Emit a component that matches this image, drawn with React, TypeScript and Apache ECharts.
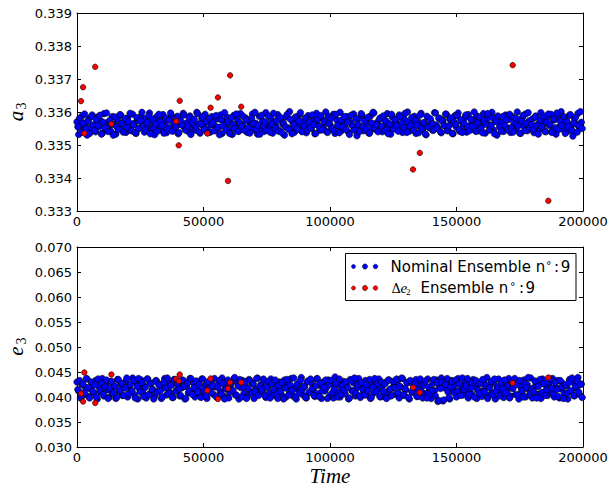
import React, { useEffect, useRef } from "react";
import * as echarts from "echarts";

// Sampling times of the nominal ensemble (two interleaved output streams)
const times = [
  0, 650, 1350, 2000, 2650, 3350, 4000, 4650, 5350, 6000, 6650, 7350, 8000, 8650, 9350,
  10000, 10650, 11350, 12000, 12650, 13350, 14000, 14650, 15350, 16000, 16650, 17350, 18000, 18650, 19350,
  20000, 20650, 21350, 22000, 22650, 23350, 24000, 24650, 25350, 26000, 26650, 27350, 28000, 28650, 29350,
  30000, 30650, 31350, 32000, 32650, 33350, 34000, 34650, 35350, 36000, 36650, 37350, 38000, 38650, 39350,
  40000, 40650, 41350, 42000, 42650, 43350, 44000, 44650, 45350, 46000, 46650, 47350, 48000, 48650, 49350,
  50000, 50650, 51350, 52000, 52650, 53350, 54000, 54650, 55350, 56000, 56650, 57350, 58000, 58650, 59350,
  60000, 60650, 61350, 62000, 62650, 63350, 64000, 64650, 65350, 66000, 66650, 67350, 68000, 68650, 69350,
  70000, 70650, 71350, 72000, 72650, 73350, 74000, 74650, 75350, 76000, 76650, 77350, 78000, 78650, 79350,
  80000, 80650, 81350, 82000, 82650, 83350, 84000, 84650, 85350, 86000, 86650, 87350, 88000, 88650, 89350,
  90000, 90650, 91350, 92000, 92650, 93350, 94000, 94650, 95350, 96000, 96650, 97350, 98000, 98650, 99350,
  100000, 100650, 101350, 102000, 102650, 103350, 104000, 104650, 105350, 106000, 106650, 107350, 108000, 108650, 109350,
  110000, 110650, 111350, 112000, 112650, 113350, 114000, 114650, 115350, 116000, 116650, 117350, 118000, 118650, 119350,
  120000, 120650, 121350, 122000, 122650, 123350, 124000, 124650, 125350, 126000, 126650, 127350, 128000, 128650, 129350,
  130000, 130650, 131350, 132000, 132650, 133350, 134000, 134650, 135350, 136000, 136650, 137350, 138000, 138650, 139350,
  140000, 140650, 141350, 142000, 142650, 143350, 144000, 144650, 145350, 146000, 146650, 147350, 148000, 148650, 149350,
  150000, 150650, 151350, 152000, 152650, 153350, 154000, 154650, 155350, 156000, 156650, 157350, 158000, 158650, 159350,
  160000, 160650, 161350, 162000, 162650, 163350, 164000, 164650, 165350, 166000, 166650, 167350, 168000, 168650, 169350,
  170000, 170650, 171350, 172000, 172650, 173350, 174000, 174650, 175350, 176000, 176650, 177350, 178000, 178650, 179350,
  180000, 180650, 181350, 182000, 182650, 183350, 184000, 184650, 185350, 186000, 186650, 187350, 188000, 188650, 189350,
  190000, 190650, 191350, 192000, 192650, 193350, 194000, 194650, 195350, 196000, 196650, 197350, 198000, 198650, 199350,
];

const times2 = [
  325, 1000, 1675, 2325, 3000, 3675, 4325, 5000, 5675, 6325, 7000, 7675, 8325, 9000, 9675,
  10325, 11000, 11675, 12325, 13000, 13675, 14325, 15000, 15675, 16325, 17000, 17675, 18325, 19000, 19675,
  20325, 21000, 21675, 22325, 23000, 23675, 24325, 25000, 25675, 26325, 27000, 27675, 28325, 29000, 29675,
  30325, 31000, 31675, 32325, 33000, 33675, 34325, 35000, 35675, 36325, 37000, 37675, 38325, 39000, 39675,
  40325, 41000, 41675, 42325, 43000, 43675, 44325, 45000, 45675, 46325, 47000, 47675, 48325, 49000, 49675,
  50325, 51000, 51675, 52325, 53000, 53675, 54325, 55000, 55675, 56325, 57000, 57675, 58325, 59000, 59675,
  60325, 61000, 61675, 62325, 63000, 63675, 64325, 65000, 65675, 66325, 67000, 67675, 68325, 69000, 69675,
  70325, 71000, 71675, 72325, 73000, 73675, 74325, 75000, 75675, 76325, 77000, 77675, 78325, 79000, 79675,
  80325, 81000, 81675, 82325, 83000, 83675, 84325, 85000, 85675, 86325, 87000, 87675, 88325, 89000, 89675,
  90325, 91000, 91675, 92325, 93000, 93675, 94325, 95000, 95675, 96325, 97000, 97675, 98325, 99000, 99675,
  100325, 101000, 101675, 102325, 103000, 103675, 104325, 105000, 105675, 106325, 107000, 107675, 108325, 109000, 109675,
  110325, 111000, 111675, 112325, 113000, 113675, 114325, 115000, 115675, 116325, 117000, 117675, 118325, 119000, 119675,
  120325, 121000, 121675, 122325, 123000, 123675, 124325, 125000, 125675, 126325, 127000, 127675, 128325, 129000, 129675,
  130325, 131000, 131675, 132325, 133000, 133675, 134325, 135000, 135675, 136325, 137000, 137675, 138325, 139000, 139675,
  140325, 141000, 141675, 142325, 143000, 143675, 144325, 145000, 145675, 146325, 147000, 147675, 148325, 149000, 149675,
  150325, 151000, 151675, 152325, 153000, 153675, 154325, 155000, 155675, 156325, 157000, 157675, 158325, 159000, 159675,
  160325, 161000, 161675, 162325, 163000, 163675, 164325, 165000, 165675, 166325, 167000, 167675, 168325, 169000, 169675,
  170325, 171000, 171675, 172325, 173000, 173675, 174325, 175000, 175675, 176325, 177000, 177675, 178325, 179000, 179675,
  180325, 181000, 181675, 182325, 183000, 183675, 184325, 185000, 185675, 186325, 187000, 187675, 188325, 189000, 189675,
  190325, 191000, 191675, 192325, 193000, 193675, 194325, 195000, 195675, 196325, 197000, 197675, 198325, 199000, 199675,
];

const a3Nominal = [
  0.3357, 0.33532, 0.33558, 0.33588, 0.33545, 0.33566, 0.3353, 0.33579, 0.33552, 0.33591,
  0.33561, 0.3354, 0.33584, 0.33555, 0.33573, 0.33536, 0.33595, 0.33549, 0.33568, 0.33557,
  0.33542, 0.33586, 0.33563, 0.33533, 0.33577, 0.33554, 0.3359, 0.33547, 0.33571, 0.33538,
  0.33582, 0.33559, 0.33544, 0.33593, 0.33566, 0.33535, 0.33574, 0.33551, 0.33587, 0.33562,
  0.33539, 0.3358, 0.33556, 0.33597, 0.33548, 0.33569, 0.33531, 0.33585, 0.3356, 0.33575,
  0.33546, 0.33592, 0.33565, 0.33537, 0.33578, 0.33553, 0.33589, 0.33543, 0.33572, 0.33558,
  0.33534, 0.33583, 0.33561, 0.33596, 0.3355, 0.33567, 0.33541, 0.33588, 0.33555, 0.33576,
  0.33545, 0.33599, 0.33564, 0.33536, 0.33581, 0.33557, 0.33593, 0.33548, 0.3357, 0.33539,
  0.33586, 0.33562, 0.33544, 0.33579, 0.33553, 0.33591, 0.33535, 0.33574, 0.3356, 0.33584,
  0.33547, 0.33568, 0.33532, 0.3359, 0.33556, 0.33577, 0.33542, 0.33595, 0.33563, 0.33551,
  0.33582, 0.33538, 0.33571, 0.33559, 0.33594, 0.33546, 0.33566, 0.33533, 0.33587, 0.33554,
  0.33573, 0.33541, 0.33598, 0.33561, 0.33549, 0.3358, 0.33536, 0.33569, 0.33557, 0.33592,
  0.33544, 0.33575, 0.33563, 0.3353, 0.33585, 0.33552, 0.33601, 0.33547, 0.33568, 0.33539,
  0.33583, 0.33558, 0.33592, 0.33543, 0.33572, 0.33555, 0.33537, 0.33589, 0.33564, 0.3355,
  0.33578, 0.33534, 0.33596, 0.3356, 0.33545, 0.33581, 0.33553, 0.3357, 0.33541, 0.33587,
  0.33562, 0.33548, 0.33593, 0.33535, 0.33576, 0.33557, 0.33599, 0.33544, 0.33567, 0.33552,
  0.33586, 0.33539, 0.33571, 0.33561, 0.33594, 0.33546, 0.33528, 0.3358, 0.33556, 0.3359,
  0.33543, 0.33574, 0.33565, 0.33536, 0.33588, 0.33551, 0.33597, 0.33547, 0.33569, 0.33558,
  0.33582, 0.3354, 0.33577, 0.33562, 0.33595, 0.33549, 0.33533, 0.33585, 0.33554, 0.33572,
  0.33545, 0.33591, 0.3356, 0.33538, 0.33579, 0.33555, 0.336, 0.33542, 0.33568, 0.33563,
  0.33587, 0.33535, 0.33573, 0.33557, 0.33596, 0.33548, 0.33566, 0.33531, 0.33584, 0.33552,
  0.3357, 0.33544, 0.33598, 0.33561, 0.3355, 0.33581, 0.33537, 0.33575, 0.33559, 0.33593,
  0.33546, 0.33578, 0.33564, 0.33534, 0.33589, 0.33553, 0.33597, 0.33541, 0.33571, 0.33556,
  0.33583, 0.33539, 0.33592, 0.3356, 0.33547, 0.33576, 0.33554, 0.33588, 0.33543, 0.33567,
  0.33558, 0.33595, 0.33536, 0.3358, 0.33563, 0.33549, 0.33599, 0.33545, 0.33572, 0.3353,
  0.33585, 0.33555, 0.33569, 0.33541, 0.33591, 0.33552, 0.33577, 0.33538, 0.33586, 0.33561,
  0.33547, 0.336, 0.33564, 0.33535, 0.33582, 0.33557, 0.33594, 0.33543, 0.33573, 0.3355,
  0.33579, 0.33537, 0.33588, 0.33562, 0.33546, 0.33598, 0.33553, 0.3357, 0.3354, 0.33584,
  0.33559, 0.33593, 0.33544, 0.33576, 0.33533, 0.33587, 0.33556, 0.33601, 0.33548, 0.33566,
  0.33574, 0.33542, 0.3359, 0.33558, 0.33527, 0.33581, 0.33563, 0.33596, 0.33551, 0.33569,
];

const a3Nominal2 = [
  0.33555, 0.33581, 0.33538, 0.33567, 0.33594, 0.33549, 0.33572, 0.33535, 0.33586, 0.3356,
  0.33544, 0.33577, 0.33558, 0.3359, 0.33533, 0.33569, 0.33552, 0.33597, 0.33541, 0.33575,
  0.33563, 0.3353, 0.33585, 0.33556, 0.33547, 0.33592, 0.33566, 0.33539, 0.3358, 0.33554,
  0.33571, 0.33596, 0.33543, 0.33561, 0.33537, 0.33583, 0.3355, 0.33574, 0.33599, 0.33557,
  0.33546, 0.33568, 0.33588, 0.33534, 0.33579, 0.33553, 0.33564, 0.33541, 0.33593, 0.3357,
  0.33559, 0.33536, 0.33582, 0.33548, 0.33575, 0.33597, 0.33542, 0.33566, 0.33555, 0.33587,
  0.33538, 0.33573, 0.3356, 0.33591, 0.33545, 0.33557, 0.33584, 0.33532, 0.33569, 0.33578,
  0.33552, 0.33595, 0.3354, 0.33564, 0.33586, 0.33547, 0.33571, 0.33537, 0.3358, 0.33561,
  0.33567, 0.33543, 0.33589, 0.33554, 0.33531, 0.33576, 0.33558, 0.33598, 0.33546, 0.33572,
  0.33535, 0.33583, 0.33562, 0.3355, 0.33594, 0.33541, 0.33568, 0.33556, 0.33587, 0.33544,
  0.33576, 0.33553, 0.33536, 0.33581, 0.33565, 0.33599, 0.33548, 0.33559, 0.33533, 0.3359,
  0.33557, 0.3357, 0.33545, 0.33588, 0.33539, 0.33563, 0.33596, 0.33551, 0.33574, 0.33542,
  0.33584, 0.33537, 0.33566, 0.33555, 0.33592, 0.33547, 0.33578, 0.33534, 0.33561, 0.33585,
  0.33549, 0.33573, 0.33598, 0.3354, 0.33558, 0.33582, 0.33544, 0.33568, 0.33553, 0.33591,
  0.33562, 0.33535, 0.33577, 0.33556, 0.33589, 0.33546, 0.33571, 0.336, 0.33538, 0.33564,
  0.3358, 0.33551, 0.33543, 0.33593, 0.3356, 0.33537, 0.33575, 0.33555, 0.33586, 0.33547,
  0.33569, 0.33532, 0.3359, 0.33558, 0.33545, 0.33579, 0.33563, 0.33541, 0.33595, 0.33554,
  0.33573, 0.33548, 0.33584, 0.33536, 0.33567, 0.33599, 0.33552, 0.33561, 0.3354, 0.33581,
  0.33557, 0.33588, 0.33544, 0.33572, 0.33534, 0.33564, 0.33593, 0.33549, 0.33577, 0.33559,
  0.33542, 0.33585, 0.33566, 0.33553, 0.33596, 0.33538, 0.3357, 0.33558, 0.33583, 0.33545,
  0.33575, 0.3356, 0.33537, 0.33591, 0.33549, 0.33568, 0.33533, 0.33587, 0.33555, 0.33579,
  0.33564, 0.33546, 0.33597, 0.33552, 0.33581, 0.3354, 0.33573, 0.33559, 0.33594, 0.33543,
  0.33558, 0.33582, 0.33535, 0.3357, 0.33562, 0.33589, 0.33547, 0.33576, 0.33538, 0.33566,
  0.33591, 0.33554, 0.33543, 0.33578, 0.33556, 0.336, 0.33541, 0.33567, 0.33585, 0.3355,
  0.33537, 0.33574, 0.33563, 0.33595, 0.33545, 0.33559, 0.33582, 0.33534, 0.33571, 0.33588,
  0.33555, 0.33542, 0.33586, 0.33561, 0.33577, 0.33548, 0.33593, 0.33553, 0.33539, 0.33568,
  0.3358, 0.33557, 0.33536, 0.33572, 0.3359, 0.33544, 0.33565, 0.33598, 0.33551, 0.33562,
  0.33546, 0.33584, 0.33559, 0.33533, 0.33576, 0.33555, 0.33588, 0.33541, 0.33569, 0.33594,
  0.33563, 0.33538, 0.33579, 0.33552, 0.33597, 0.33547, 0.33573, 0.33558, 0.33586, 0.33535,
  0.33571, 0.33556, 0.33592, 0.33544, 0.33567, 0.33583, 0.33539, 0.3356, 0.33601, 0.3355,
];

const e3Nominal = [
  0.043, 0.0412, 0.0398, 0.0425, 0.0404, 0.0419, 0.0436, 0.0401, 0.0416, 0.0428,
  0.0407, 0.0433, 0.0396, 0.0421, 0.041, 0.0437, 0.0402, 0.0424, 0.0414, 0.0399,
  0.0431, 0.0408, 0.042, 0.0397, 0.0435, 0.0411, 0.0426, 0.0403, 0.0418, 0.0432,
  0.04, 0.0423, 0.0413, 0.0438, 0.0405, 0.0429, 0.0396, 0.0417, 0.0434, 0.0409,
  0.0422, 0.0398, 0.0436, 0.0406, 0.0427, 0.0415, 0.0401, 0.0433, 0.0411, 0.0425,
  0.0397, 0.0419, 0.0437, 0.0404, 0.043, 0.041, 0.0424, 0.0399, 0.0435, 0.0414,
  0.0426, 0.0402, 0.0418, 0.0433, 0.0396, 0.0421, 0.0408, 0.0437, 0.0412, 0.0428,
  0.04, 0.0431, 0.0416, 0.0403, 0.0436, 0.0409, 0.0423, 0.0397, 0.0429, 0.0415,
  0.0434, 0.0405, 0.042, 0.0399, 0.0427, 0.0411, 0.0438, 0.0402, 0.0418, 0.0431,
  0.0398, 0.0424, 0.0413, 0.0436, 0.0404, 0.0429, 0.0396, 0.0419, 0.0433, 0.0407,
  0.0422, 0.0401, 0.0435, 0.041, 0.0427, 0.0397, 0.0416, 0.0438, 0.0405, 0.0425,
  0.0412, 0.0432, 0.0399, 0.0421, 0.0408, 0.0436, 0.0403, 0.0428, 0.0414, 0.0397,
  0.043, 0.0406, 0.0419, 0.0434, 0.04, 0.0424, 0.0411, 0.0437, 0.0402, 0.0417,
  0.0396, 0.0426, 0.0413, 0.0439, 0.0404, 0.0421, 0.0398, 0.0432, 0.0409, 0.0428,
  0.0415, 0.0401, 0.0436, 0.0407, 0.0423, 0.0397, 0.043, 0.0412, 0.0419, 0.0434,
  0.0403, 0.0427, 0.0398, 0.044, 0.041, 0.0425, 0.04, 0.0417, 0.0431, 0.0406,
  0.0421, 0.0396, 0.0435, 0.0413, 0.0428, 0.0402, 0.0418, 0.0437, 0.0399, 0.0424,
  0.0411, 0.0433, 0.0404, 0.042, 0.0397, 0.043, 0.0408, 0.0426, 0.0415, 0.0436,
  0.04, 0.0422, 0.0401, 0.0429, 0.041, 0.0434, 0.0402, 0.0417, 0.0425, 0.0405,
  0.0432, 0.0398, 0.042, 0.0437, 0.0403, 0.0414, 0.0428, 0.0396, 0.0431, 0.0409,
  0.0419, 0.0435, 0.0401, 0.0424, 0.0412, 0.0398, 0.043, 0.0407, 0.0436, 0.0416,
  0.0397, 0.0427, 0.0413, 0.0434, 0.0391, 0.0421, 0.0438, 0.0392, 0.0418, 0.0429,
  0.041, 0.0396, 0.0433, 0.0416, 0.0425, 0.04, 0.0437, 0.0411, 0.0422, 0.0404,
  0.0431, 0.0414, 0.0398, 0.0428, 0.0406, 0.0435, 0.042, 0.0397, 0.0426, 0.0412,
  0.0401, 0.0433, 0.0417, 0.0439, 0.0403, 0.0424, 0.0409, 0.043, 0.0396, 0.0419,
  0.0436, 0.0408, 0.0422, 0.0399, 0.0429, 0.0413, 0.0437, 0.0402, 0.0418, 0.0427,
  0.0405, 0.0432, 0.0396, 0.0421, 0.0411, 0.0434, 0.04, 0.0425, 0.0415, 0.0438,
  0.0398, 0.0419, 0.043, 0.0406, 0.0426, 0.0397, 0.0436, 0.041, 0.0423, 0.0403,
  0.0429, 0.0412, 0.0437, 0.04, 0.042, 0.0433, 0.0398, 0.0416, 0.0427, 0.0408,
  0.0422, 0.0396, 0.0435, 0.0411, 0.043, 0.0402, 0.0418, 0.0439, 0.0405, 0.0426,
];

const e3Nominal2 = [
  0.0415, 0.0433, 0.0402, 0.0426, 0.0409, 0.0437, 0.0419, 0.0398, 0.043, 0.0411,
  0.0424, 0.04, 0.0436, 0.0413, 0.0428, 0.0405, 0.042, 0.0434, 0.0397, 0.0417,
  0.0431, 0.0408, 0.0422, 0.0399, 0.0435, 0.0414, 0.0427, 0.0403, 0.0418, 0.0438,
  0.0406, 0.0425, 0.0412, 0.0433, 0.0398, 0.0421, 0.0437, 0.041, 0.0429, 0.0401,
  0.0419, 0.0436, 0.0404, 0.0427, 0.0415, 0.0396, 0.0432, 0.0409, 0.0424, 0.0413,
  0.04, 0.043, 0.0418, 0.0438, 0.0407, 0.0423, 0.0399, 0.0435, 0.0411, 0.0426,
  0.0416, 0.0403, 0.0434, 0.0421, 0.0397, 0.0428, 0.0412, 0.0437, 0.0405, 0.0419,
  0.0432, 0.041, 0.0425, 0.0399, 0.0436, 0.0414, 0.0402, 0.043, 0.0418, 0.0408,
  0.0423, 0.0437, 0.0401, 0.042, 0.0433, 0.0406, 0.0427, 0.0396, 0.0416, 0.0434,
  0.0409, 0.0428, 0.0413, 0.0439, 0.0404, 0.0422, 0.0435, 0.04, 0.0419, 0.0431,
  0.0397, 0.0417, 0.0433, 0.0408, 0.0426, 0.0411, 0.0437, 0.0403, 0.0421, 0.0414,
  0.0436, 0.0402, 0.042, 0.0431, 0.0398, 0.0427, 0.0415, 0.0434, 0.0406, 0.0423,
  0.0411, 0.0429, 0.0396, 0.0418, 0.0435, 0.0404, 0.0424, 0.0413, 0.0438, 0.04,
  0.0426, 0.0407, 0.0433, 0.0415, 0.0421, 0.0399, 0.0431, 0.041, 0.0436, 0.0417,
  0.0403, 0.0422, 0.0437, 0.0401, 0.0428, 0.0412, 0.0419, 0.0434, 0.0397, 0.0425,
  0.0433, 0.0409, 0.0416, 0.0427, 0.04, 0.0436, 0.0405, 0.0423, 0.0414, 0.043,
  0.0419, 0.0398, 0.0432, 0.0411, 0.0438, 0.0407, 0.0425, 0.0402, 0.0429, 0.0415,
  0.0404, 0.0424, 0.0413, 0.0435, 0.0399, 0.042, 0.0437, 0.041, 0.0427, 0.0401,
  0.043, 0.0412, 0.0426, 0.0397, 0.0434, 0.0416, 0.0403, 0.0431, 0.0419, 0.0436,
  0.0408, 0.0421, 0.0438, 0.0405, 0.0417, 0.0429, 0.0399, 0.0433, 0.0411, 0.0424,
  0.0427, 0.0401, 0.0414, 0.0436, 0.041, 0.0423, 0.0432, 0.0398, 0.042, 0.0406,
  0.0413, 0.0435, 0.0402, 0.0428, 0.0393, 0.0417, 0.043, 0.0394, 0.0425, 0.0437,
  0.0399, 0.042, 0.0431, 0.0409, 0.0434, 0.0412, 0.0426, 0.0403, 0.0438, 0.0415,
  0.0422, 0.0437, 0.0405, 0.0418, 0.0429, 0.04, 0.0433, 0.0414, 0.0407, 0.0427,
  0.0435, 0.041, 0.0424, 0.0397, 0.0419, 0.0431, 0.0404, 0.0436, 0.0412, 0.0421,
  0.0402, 0.0428, 0.0416, 0.0434, 0.0408, 0.0423, 0.0398, 0.043, 0.0417, 0.0437,
  0.0425, 0.0404, 0.0433, 0.0413, 0.04, 0.0426, 0.0419, 0.0439, 0.0406, 0.0416,
  0.0411, 0.0432, 0.0398, 0.0421, 0.0435, 0.0409, 0.0427, 0.0403, 0.0414, 0.043,
  0.0436, 0.0418, 0.0406, 0.0429, 0.0415, 0.0401, 0.0433, 0.042, 0.0397, 0.0424,
  0.0407, 0.0428, 0.0413, 0.0438, 0.0403, 0.0421, 0.0432, 0.041, 0.0425, 0.0399,
];

// Delta-e2 ensemble (red)
const redTimes = [
  1600, 2400, 2900, 7200, 13600, 39200, 40600, 40200, 51500,
  52800, 55700, 60500, 59700, 64900, 172200, 135500, 132800, 186300,
];
const a3Delta = [
  0.33633, 0.33675, 0.33535, 0.33737, 0.33564, 0.33572, 0.33634, 0.33499, 0.33535,
  0.33613, 0.33644, 0.33711, 0.33391, 0.33616, 0.33742, 0.33476, 0.33426, 0.33331,
];
const e3Delta = [
  0.0407, 0.0391, 0.0449, 0.0388, 0.0445, 0.0436, 0.0445, 0.0432, 0.0413,
  0.0437, 0.0396, 0.0429, 0.0417, 0.0429, 0.0428, 0.0409, 0.0419, 0.0439,
];

const xTickStep = 50000;
const a3Range = { min: 0.333, max: 0.339, step: 0.001 };
const e3Range = { min: 0.03, max: 0.07, step: 0.005 };

const legendLabels = ["Nominal Ensemble n", "Ensemble n"];

const tickFont = { fontFamily: "DejaVu Sans", fontSize: 13, color: "#000" };
const black = "#000";

function xAxisPair(gridIndex: number) {
  const base = {
    type: "value",
    gridIndex,
    min: 0,
    max: 200000,
    interval: xTickStep,
    splitLine: { show: false },
    axisLine: { show: true, onZero: false, lineStyle: { color: black, width: 1 } },
    axisTick: { show: true, inside: true, length: 4, lineStyle: { color: black, width: 1 } },
  };
  return [
    {
      ...base,
      position: "bottom",
      axisLabel: { ...tickFont, margin: 4, formatter: (v: number) => String(v) },
    },
    { ...base, position: "top", axisLabel: { show: false } },
  ];
}

function yAxisPair(gridIndex: number, r: { min: number; max: number; step: number }) {
  const base = {
    type: "value",
    gridIndex,
    min: r.min,
    max: r.max,
    interval: r.step,
    splitLine: { show: false },
    axisLine: { show: true, onZero: false, lineStyle: { color: black, width: 1 } },
    axisTick: { show: true, inside: true, length: 4, lineStyle: { color: black, width: 1 } },
  };
  return [
    {
      ...base,
      position: "left",
      axisLabel: { ...tickFont, margin: 5, formatter: (v: number) => v.toFixed(3) },
    },
    { ...base, position: "right", axisLabel: { show: false } },
  ];
}

const blueStyle = { color: "#0000ff", borderColor: black, borderWidth: 0.6, opacity: 1 };
const redStyle = { color: "#ff0000", borderColor: black, borderWidth: 0.6, opacity: 1 };

function axisTitle(x: number, y: number, letter: string) {
  return {
    type: "group",
    x,
    y,
    rotation: Math.PI / 2,
    children: [
      {
        type: "text",
        x: -4,
        y: 0,
        style: {
          text: letter,
          fontFamily: "Liberation Serif",
          fontStyle: "italic",
          fontSize: 21,
          fill: black,
          align: "center",
          verticalAlign: "middle",
        },
      },
      {
        type: "text",
        x: 6,
        y: 5,
        style: {
          text: "3",
          fontFamily: "Liberation Serif",
          fontSize: 14,
          fill: black,
          align: "center",
          verticalAlign: "middle",
        },
      },
    ],
  };
}

function legendGraphics() {
  const els: any[] = [];
  els.push({
    type: "rect",
    z: 100,
    shape: { x: 345.5, y: 253.5, width: 230.5, height: 47 },
    style: { fill: "#fff", stroke: black, lineWidth: 1 },
  });
  const rows = [
    { cy: 266.5, color: "#0000ff" },
    { cy: 288, color: "#ff0000" },
  ];
  const dots = [
    { cx: 353.5, r: 2.0 },
    { cx: 365, r: 2.6 },
    { cx: 375.5, r: 2.3 },
  ];
  rows.forEach((row) => {
    dots.forEach((d) => {
      els.push({
        type: "circle",
        z: 101,
        shape: { cx: d.cx, cy: row.cy, r: d.r },
        style: { fill: row.color, stroke: black, lineWidth: 0.5 },
      });
    });
  });
  const txt = (text: string, x: number, y: number, extra: any = {}) => ({
    type: "text",
    z: 101,
    x,
    y,
    style: {
      text,
      fontFamily: "DejaVu Sans",
      fontSize: 15,
      fill: black,
      align: "left",
      verticalAlign: "middle",
      ...extra,
    },
  });
  // row 1
  els.push(txt(legendLabels[0], 390.5, 266.5));
  els.push(txt("°", 546, 265, { fontSize: 11 }));
  els.push(txt(":", 554, 266.5));
  els.push(txt("9", 560.7, 266.5));
  // row 2
  els.push(txt("Δ", 391.5, 288, { fontFamily: "DejaVu Serif", fontSize: 13 }));
  els.push(txt("e", 400.5, 288, { fontFamily: "Liberation Serif", fontStyle: "italic", fontSize: 15 }));
  els.push(txt("2", 406, 292, { fontFamily: "Liberation Serif", fontSize: 9 }));
  els.push(txt(legendLabels[1], 420.5, 288));
  els.push(txt("°", 510, 286.5, { fontSize: 11 }));
  els.push(txt(":", 519, 288));
  els.push(txt("9", 525.5, 288));
  return els;
}

export default function App() {
  const ref = useRef<HTMLDivElement>(null);
  useEffect(() => {
    if (!ref.current) return;
    const chart = echarts.init(ref.current, undefined, { renderer: "svg" });
    const blueA = times
      .map((t, i) => [t, a3Nominal[i]])
      .concat(times2.map((t, i) => [t, a3Nominal2[i]]));
    const blueE = times
      .map((t, i) => [t, e3Nominal[i]])
      .concat(times2.map((t, i) => [t, e3Nominal2[i]]));
    const redA = redTimes.map((t, i) => [t, a3Delta[i]]);
    const redE = redTimes.map((t, i) => [t, e3Delta[i]]);
    chart.setOption({
      animation: false,
      backgroundColor: "#fff",
      grid: [
        { left: 77, top: 13, width: 506, height: 198, containLabel: false },
        { left: 77, top: 247, width: 506, height: 200, containLabel: false },
      ],
      xAxis: [...xAxisPair(0), ...xAxisPair(1)],
      yAxis: [...yAxisPair(0, a3Range), ...yAxisPair(1, e3Range)],
      series: [
        {
          type: "scatter",
          xAxisIndex: 0,
          yAxisIndex: 0,
          data: blueA,
          symbolSize: 6.5,
          itemStyle: blueStyle,
          silent: true,
          z: 2,
        },
        {
          type: "scatter",
          xAxisIndex: 0,
          yAxisIndex: 0,
          data: redA,
          symbolSize: 5.5,
          itemStyle: redStyle,
          silent: true,
          z: 3,
        },
        {
          type: "scatter",
          xAxisIndex: 2,
          yAxisIndex: 2,
          data: blueE,
          symbolSize: 6.5,
          itemStyle: blueStyle,
          silent: true,
          z: 2,
        },
        {
          type: "scatter",
          xAxisIndex: 2,
          yAxisIndex: 2,
          data: redE,
          symbolSize: 5.5,
          itemStyle: redStyle,
          silent: true,
          z: 3,
        },
      ],
      graphic: [
        axisTitle(16, 112, "a"),
        axisTitle(16, 347, "e"),
        {
          type: "text",
          x: 330,
          y: 476,
          style: {
            text: "Time",
            fontFamily: "Liberation Serif",
            fontStyle: "italic",
            fontSize: 21,
            fill: black,
            align: "center",
            verticalAlign: "middle",
          },
        },
        ...legendGraphics(),
      ],
    });
    return () => chart.dispose();
  }, []);
  return (
    <div
      ref={ref}
      style={{ position: "fixed", left: 0, top: 0, width: 615, height: 491 }}
    />
  );
}
